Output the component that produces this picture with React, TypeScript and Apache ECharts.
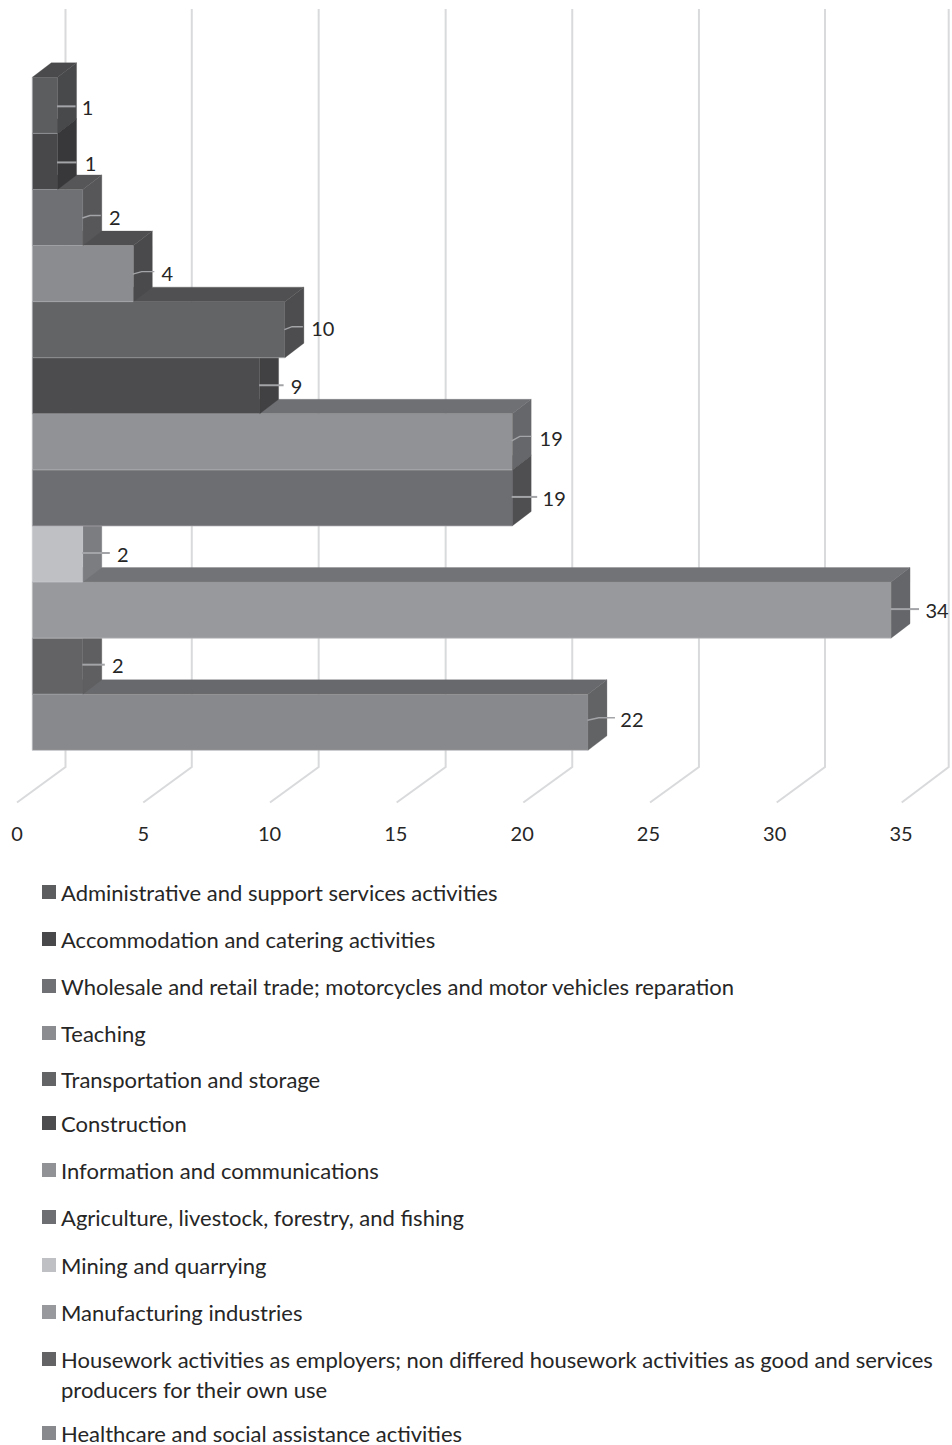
import React, { useEffect, useRef } from "react";
import * as echarts from "echarts";

// Sectors from the top of the chart to the bottom, with their counts.
const categories = [
  "Administrative and support services activities",
  "Accommodation and catering activities",
  "Wholesale and retail trade; motorcycles and motor vehicles reparation",
  "Teaching",
  "Transportation and storage",
  "Construction",
  "Information and communications",
  "Agriculture, livestock, forestry, and fishing",
  "Mining and quarrying",
  "Manufacturing industries",
  "Housework activities as employers; non differed housework activities as good and services",
  "Healthcare and social assistance activities",
];
const values = [1, 1, 2, 4, 10, 9, 19, 19, 2, 34, 2, 22];
const wrappedLine = "producers for their own use";
const axisTicks = [0, 5, 10, 15, 20, 25, 30, 35];

// Shades of each box: front, top and right faces.
const frontFaces = ["#5c5d5f", "#48484a", "#6f7073", "#8b8c8f", "#636466", "#4c4c4e", "#919295", "#6d6e71", "#bfc0c4", "#98999c", "#636365", "#88898c"];
const topFaces = ["#4a4a4c", "#3c3c3e", "#565658", "#4f4f51", "#505052", "#444446", "#6f7074", "#565658", "#7c7d81", "#727377", "#6a6b6e", "#68696c"];
const sideFaces = ["#48494b", "#38383a", "#57575a", "#4a4a4c", "#4d4d4f", "#414143", "#66676a", "#4f4f51", "#7c7d81", "#65666a", "#5f5f61", "#626365"];

// Leader line and label placement, relative to the bar end and the band centre.
const leaderReach = [18, 19, 18, 21, 18, 24, 19, 25, 27, 28, 22, 27];
const leaderStartDy = [1, 1, 0.5, 0.5, 0, -0.5, -1, -1, -1, -1, -1.5, -2];
const leaderEndDy = [1, 1, -2, -2, -3, -0.5, -5.5, -1, -1, -1, -1.5, -4.5];
const labelDx = [30, 33, 32, 34, 38, 37, 39, 42, 40, 46, 35, 44];
const labelDy = [2, 2, -1, -1, -2, 0, -4, 0, 0, 0, -1, -3];

// Small corrections to where the wall lines stand and where they meet the floor edge.
const wallNudge = [0, 0, 0.6, 1.3, 1.6, 2, 1.8, -0.8];
const floorNudge = [0, 0, 0.4, 0.8, 1.2, 1.6, 2, 0.7];

// Vertical centre of each legend row.
const legendRows = [893, 940, 987, 1034, 1080, 1124, 1171, 1218, 1266, 1313, 1360, 1434];

const FONT = "Lato";
const NUMBER_SIZE = 20;
const LEGEND_SIZE = 22;
const TEXT = "#262626";
const WALL = "#d9dadc";
const DEPTH_X = 19;
const DEPTH_Y = 14.5;
const FRONT_SHIFT = 15.3; // the bars' zero sits this far right of the floor tick
const WALL_SHIFT = 48.5; // back wall, relative to the floor tick
const EDGE = "rgba(205,206,210,0.6)";

function barSeries(i: number) {
  return {
    type: "custom",
    name: categories[i],
    coordinateSystem: "cartesian2d",
    clip: false,
    silent: true,
    itemStyle: { color: frontFaces[i] },
    encode: { x: 0, y: 1 },
    data: [[values[i], i]],
    renderItem: (_p: any, api: any) => {
      const [end, cy] = api.coord([api.value(0), api.value(1)]);
      const [start] = api.coord([0, api.value(1)]);
      const band = api.size([0, 1])[1];
      const x0 = start + FRONT_SHIFT;
      const x1 = end + FRONT_SHIFT;
      const y0 = cy - band / 2;
      const y1 = cy + band / 2;
      const face = (points: number[][], fill: string) => ({
        type: "polygon",
        shape: { points },
        style: { fill, stroke: fill, lineWidth: 0.3 },
      });
      return {
        type: "group",
        children: [
          face([[x0, y0], [x0 + DEPTH_X, y0 - DEPTH_Y], [x1 + DEPTH_X, y0 - DEPTH_Y], [x1, y0]], topFaces[i]),
          face([[x1, y0], [x1 + DEPTH_X, y0 - DEPTH_Y], [x1 + DEPTH_X, y1 - DEPTH_Y], [x1, y1]], sideFaces[i]),
          face([[x0, y0], [x1, y0], [x1, y1], [x0, y1]], frontFaces[i]),
          {
            // Pale rim along the left and bottom of the front face.
            type: "polyline",
            shape: { points: [[x0, y0], [x0, y1], [x1, y1]] },
            style: { fill: "none", stroke: EDGE, lineWidth: 0.8 },
          },
          {
            type: "polyline",
            shape: {
              points: [
                [x1 - 0.5, cy + leaderStartDy[i]],
                [x1 + leaderReach[i] * 0.4, cy + leaderEndDy[i]],
                [x1 + leaderReach[i], cy + leaderEndDy[i]],
              ],
            },
            style: { fill: "none", stroke: "#a3a4a7", lineWidth: leaderStartDy[i] === leaderEndDy[i] ? 2 : 1.4 },
          },
          {
            type: "text",
            style: {
              text: String(values[i]),
              x: x1 + labelDx[i],
              y: cy + labelDy[i],
              align: "center",
              verticalAlign: "middle",
              font: `${NUMBER_SIZE}px ${FONT}`,
              fill: TEXT,
            },
          },
        ],
      };
    },
  };
}

// Back wall line plus its run across the floor, one for each tick.
const wallSeries = {
  type: "custom",
  name: "wall",
  coordinateSystem: "cartesian2d",
  clip: false,
  silent: true,
  encode: { x: 0, y: 1 },
  data: axisTicks.map((t) => [t, 0]),
  renderItem: (p: any, api: any) => {
    const [x] = api.coord([api.value(0), 0]);
    const top = x + WALL_SHIFT + wallNudge[p.dataIndex];
    return {
      type: "polyline",
      shape: { points: [[top, 9], [top, 767], [x + floorNudge[p.dataIndex], 802.5]] },
      style: { fill: "none", stroke: WALL, lineWidth: 2 },
    };
  },
};

export default function App() {
  const ref = useRef<HTMLDivElement>(null);
  useEffect(() => {
    const chart = echarts.init(ref.current!, undefined, { renderer: "svg" });
    // Upper boxes are painted last so their fronts hide the top faces of the boxes below.
    const boxes = categories.map((_, i) => barSeries(i)).reverse();
    chart.setOption({
      animation: false,
      backgroundColor: "#ffffff",
      textStyle: { fontFamily: FONT },
      grid: { left: 17, top: 77.3, width: 884, height: 673, containLabel: false },
      xAxis: {
        type: "value",
        min: 0,
        max: 35,
        interval: 5,
        axisLine: { show: false },
        axisTick: { show: false },
        splitLine: { show: false },
        axisLabel: { margin: 73, color: TEXT, fontFamily: FONT, fontSize: NUMBER_SIZE },
      },
      yAxis: { type: "category", inverse: true, show: false, data: categories },
      legend: categories.map((name, i) => ({
        data: [name],
        left: 42,
        top: legendRows[i] - 12,
        padding: 0,
        icon: "rect",
        itemWidth: 14,
        itemHeight: 14,
        itemGap: 0,
        selectedMode: false,
        itemStyle: { borderWidth: 0 },
        textStyle: { color: TEXT, fontFamily: FONT, fontSize: LEGEND_SIZE, height: 20, lineHeight: 20 },
      })),
      graphic: [
        {
          type: "text",
          left: 61,
          top: 1378,
          style: { text: wrappedLine, font: `${LEGEND_SIZE}px ${FONT}`, fill: TEXT },
        },
      ],
      series: [wallSeries, ...boxes],
    });
    return () => chart.dispose();
  }, []);
  return <div ref={ref} style={{ position: "absolute", left: 0, top: 0, width: 952, height: 1445 }} />;
}
